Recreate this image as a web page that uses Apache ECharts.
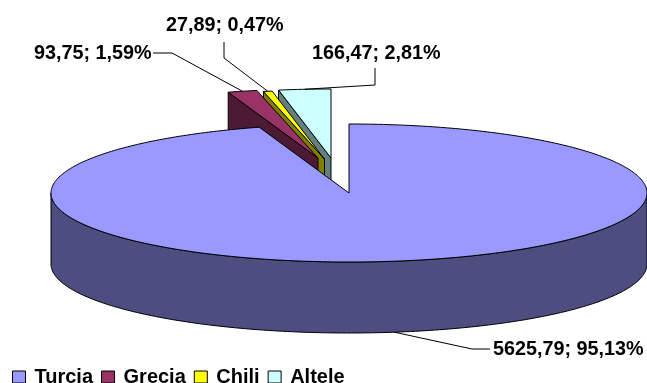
<!DOCTYPE html>
<html>
<head>
<meta charset="utf-8">
<style>html,body{margin:0;padding:0;background:#fff}#chart{width:647px;height:383px}</style>
<script src="https://cdn.jsdelivr.net/npm/echarts@6/dist/echarts.min.js"></script>
</head>
<body>
<div id="chart"></div>
<script>
// Production by country
const categories = ['Turcia', 'Grecia', 'Chili', 'Altele'];
const values = [5625.79, 93.75, 27.89, 166.47];
const topColors = ['#9999FF', '#993366', '#FFFF00', '#CCFFFF'];
const sideColors = ['#4D4D80', '#4D1A33', '#808000', '#668080'];

// Ellipse geometry of the tilted disc
const CX = 349, CY = 193, RX = 298, RY = 69, DEPTH = 71;
const FONT = 'bold 19.8px "Liberation Sans", Arial, sans-serif';
// Per-slice pull-out from the disc centre
const pulls = [[0, 0], [-31, -35], [-24.5, -34], [-18, -35]];
// Callout routes: elbow points, then where each text is anchored
const elbows = [[[472, 349], [490, 349]], [[172, 53], [153, 53]], [[224, 58], [224, 42]], [[375, 85], [375, 68]]];
const textAt = [[493, 350], [34, 54], [166, 26], [312, 54]];

const total = values.reduce((a, b) => a + b, 0);
const comma = (v) => v.toFixed(2).replace('.', ',');

// Angles run clockwise from twelve o'clock
const startFractions = values.map((_, i) => values.slice(0, i).reduce((a, b) => a + b, 0) / total);
const pt = (ox, oy, a, dy) => [ox + RX * Math.sin(a), oy - RY * Math.cos(a) + (dy || 0)];
const arc = (ox, oy, a0, a1, dy) => {
  const n = Math.max(2, Math.ceil(Math.abs(a1 - a0) * 60));
  const out = [];
  for (let k = 0; k <= n; k++) out.push(pt(ox, oy, a0 + (a1 - a0) * k / n, dy));
  return out;
};
const TAU = Math.PI * 2;

function sliceRenderer(i) {
  return function (params, api) {
    const v = api.value(0);
    const a0 = startFractions[i] * TAU;
    const a1 = a0 + v / total * TAU;
    const ox = CX + pulls[i][0], oy = CY + pulls[i][1];
    const line = { stroke: '#000', lineWidth: 1, lineJoin: 'round' };
    const children = [];

    // Outer wall, only the part facing the viewer
    const w0 = Math.max(a0, Math.PI / 2), w1 = Math.min(a1, Math.PI * 1.5);
    if (w1 > w0) {
      const wall = arc(ox, oy, w0, w1, 0).concat(arc(ox, oy, w1, w0, DEPTH));
      children.push({ type: 'polygon', shape: { points: wall }, style: { fill: sideColors[i], ...line } });
    } else {
      // Cut face of a pulled-out slice
      const face = [pt(ox, oy, a0), [ox, oy], [ox, oy + DEPTH], pt(ox, oy, a0, DEPTH)];
      children.push({ type: 'polygon', shape: { points: face }, style: { fill: sideColors[i], ...line } });
    }

    // Top face
    const topFace = [[ox, oy]].concat(arc(ox, oy, a0, a1, 0));
    children.push({ type: 'polygon', shape: { points: topFace }, style: { fill: topColors[i], ...line } });

    // Callout line from the middle of the rim, then its text
    const mid = (a0 + a1) / 2;
    const anchor = pt(ox, oy, mid, Math.cos(mid) < 0 ? DEPTH : 0);
    children.push({
      type: 'polyline',
      shape: { points: [anchor].concat(elbows[i]) },
      style: { stroke: '#000', lineWidth: 1, fill: null }
    });
    children.push({
      type: 'text',
      style: {
        x: textAt[i][0], y: textAt[i][1],
        text: comma(v) + '; ' + comma(v / total * 100) + '%',
        font: FONT, fill: '#000', textAlign: 'left', textVerticalAlign: 'middle'
      }
    });
    return { type: 'group', children };
  };
}

const chart = echarts.init(document.getElementById('chart'), null, { renderer: 'canvas' });
chart.setOption({
  animation: false,
  backgroundColor: '#fff',
  legend: {
    data: categories,
    left: 12,
    top: 367,
    padding: 0,
    icon: 'rect',
    itemWidth: 13,
    itemHeight: 12,
    itemGap: 8,
    itemStyle: { borderColor: '#000', borderWidth: 1 },
    selectedMode: false,
    textStyle: { fontFamily: '"Liberation Sans", Arial, sans-serif', fontWeight: 'bold', fontSize: 20, color: '#000', padding: [0, 0, 0, 4] }
  },
  series: categories.map((name, i) => ({
    type: 'custom',
    name,
    coordinateSystem: 'none',
    z: i === 0 ? 10 : 5 - i,
    silent: true,
    itemStyle: { color: topColors[i] },
    data: [[values[i]]],
    renderItem: sliceRenderer(i)
  }))
});
</script>
</body>
</html>
